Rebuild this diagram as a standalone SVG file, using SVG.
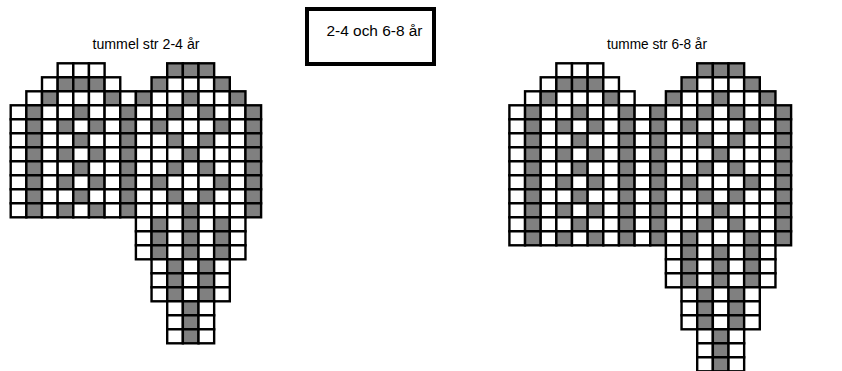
<svg xmlns="http://www.w3.org/2000/svg" xmlns:xlink="http://www.w3.org/1999/xlink" width="842" height="371" viewBox="0 0 842 371">
<style>
.w{fill:#ffffff;stroke:#000000;stroke-width:2.4}
.g{fill:#808080;stroke:#000000;stroke-width:2.4}
.t{font-family:"Liberation Sans",Arial,sans-serif;font-size:14px;fill:#000000}
.box{fill:#ffffff;stroke:#000000;stroke-width:4}
</style>
<defs>
<rect id="W" class="w" width="15.65" height="14"/>
<rect id="G" class="g" width="15.65" height="14"/>
<!-- left chart row patterns -->
<g id="L3"><use href="#W" x="0"/><use href="#G" x="15.65"/><use href="#W" x="31.3"/><use href="#W" x="46.95"/><use href="#G" x="62.6"/><use href="#W" x="78.25"/><use href="#W" x="93.9"/><use href="#G" x="109.55"/><use href="#W" x="125.2"/><use href="#W" x="140.85"/><use href="#G" x="156.5"/><use href="#W" x="172.15"/><use href="#G" x="187.8"/><use href="#W" x="203.45"/><use href="#W" x="219.1"/><use href="#G" x="234.75"/></g>
<g id="L4"><use href="#W" x="0"/><use href="#G" x="15.65"/><use href="#W" x="31.3"/><use href="#G" x="46.95"/><use href="#W" x="62.6"/><use href="#G" x="78.25"/><use href="#W" x="93.9"/><use href="#G" x="109.55"/><use href="#W" x="125.2"/><use href="#G" x="140.85"/><use href="#W" x="156.5"/><use href="#W" x="172.15"/><use href="#W" x="187.8"/><use href="#G" x="203.45"/><use href="#W" x="219.1"/><use href="#G" x="234.75"/></g>
<g id="L6"><use href="#W" x="0"/><use href="#G" x="15.65"/><use href="#W" x="31.3"/><use href="#G" x="46.95"/><use href="#W" x="62.6"/><use href="#G" x="78.25"/><use href="#W" x="93.9"/><use href="#G" x="109.55"/><use href="#W" x="125.2"/><use href="#W" x="140.85"/><use href="#W" x="156.5"/><use href="#G" x="172.15"/><use href="#W" x="187.8"/><use href="#W" x="203.45"/><use href="#W" x="219.1"/><use href="#G" x="234.75"/></g>
<g id="L11"><use href="#W" x="125.2"/><use href="#G" x="140.85"/><use href="#W" x="156.5"/><use href="#G" x="172.15"/><use href="#W" x="187.8"/><use href="#G" x="203.45"/><use href="#W" x="219.1"/></g>
<g id="L14"><use href="#W" x="140.85"/><use href="#G" x="156.5"/><use href="#W" x="172.15"/><use href="#G" x="187.8"/><use href="#W" x="203.45"/></g>
<g id="L17"><use href="#W" x="156.5"/><use href="#G" x="172.15"/><use href="#W" x="187.8"/></g>
<!-- right chart row patterns -->
<g id="R3"><use href="#W" x="0"/><use href="#G" x="15.65"/><use href="#W" x="31.3"/><use href="#W" x="46.95"/><use href="#G" x="62.6"/><use href="#W" x="78.25"/><use href="#W" x="93.9"/><use href="#G" x="109.55"/><use href="#W" x="125.2"/><use href="#G" x="140.85"/><use href="#W" x="156.5"/><use href="#W" x="172.15"/><use href="#G" x="187.8"/><use href="#W" x="203.45"/><use href="#G" x="219.1"/><use href="#W" x="234.75"/><use href="#W" x="250.4"/><use href="#G" x="266.05"/></g>
<g id="R4"><use href="#W" x="0"/><use href="#G" x="15.65"/><use href="#W" x="31.3"/><use href="#G" x="46.95"/><use href="#W" x="62.6"/><use href="#G" x="78.25"/><use href="#W" x="93.9"/><use href="#G" x="109.55"/><use href="#W" x="125.2"/><use href="#G" x="140.85"/><use href="#W" x="156.5"/><use href="#G" x="172.15"/><use href="#W" x="187.8"/><use href="#W" x="203.45"/><use href="#W" x="219.1"/><use href="#G" x="234.75"/><use href="#W" x="250.4"/><use href="#G" x="266.05"/></g>
<g id="R6"><use href="#W" x="0"/><use href="#G" x="15.65"/><use href="#W" x="31.3"/><use href="#G" x="46.95"/><use href="#W" x="62.6"/><use href="#G" x="78.25"/><use href="#W" x="93.9"/><use href="#G" x="109.55"/><use href="#W" x="125.2"/><use href="#G" x="140.85"/><use href="#W" x="156.5"/><use href="#W" x="172.15"/><use href="#W" x="187.8"/><use href="#G" x="203.45"/><use href="#W" x="219.1"/><use href="#W" x="234.75"/><use href="#W" x="250.4"/><use href="#G" x="266.05"/></g>
<g id="R13"><use href="#W" x="156.5"/><use href="#G" x="172.15"/><use href="#W" x="187.8"/><use href="#G" x="203.45"/><use href="#W" x="219.1"/><use href="#G" x="234.75"/><use href="#W" x="250.4"/></g>
<g id="R16"><use href="#W" x="172.15"/><use href="#G" x="187.8"/><use href="#W" x="203.45"/><use href="#G" x="219.1"/><use href="#W" x="234.75"/></g>
<g id="R19"><use href="#W" x="187.8"/><use href="#G" x="203.45"/><use href="#W" x="219.1"/></g>
</defs>

<g id="title-left"><text class="t" x="92.5" y="49" textLength="107" lengthAdjust="spacingAndGlyphs">tummel str 2-4 år</text></g>
<g id="title-right"><text class="t" x="607" y="49" textLength="100" lengthAdjust="spacingAndGlyphs">tumme str 6-8 år</text></g>
<g id="size-box"><rect class="box" x="307" y="9" width="127" height="55"/><text class="t" x="326.5" y="36" textLength="96" lengthAdjust="spacingAndGlyphs">2-4 och 6-8 år</text></g>

<g id="chart-left" transform="translate(10.7,63.3)">
<use href="#W" x="46.95" y="0"/><use href="#W" x="62.6" y="0"/><use href="#W" x="78.25" y="0"/>
<use href="#G" x="156.5" y="0"/><use href="#G" x="172.15" y="0"/><use href="#G" x="187.8" y="0"/>
<use href="#W" x="31.3" y="14"/><use href="#G" x="46.95" y="14"/><use href="#G" x="62.6" y="14"/><use href="#G" x="78.25" y="14"/><use href="#W" x="93.9" y="14"/>
<use href="#G" x="140.85" y="14"/><use href="#W" x="156.5" y="14"/><use href="#W" x="172.15" y="14"/><use href="#W" x="187.8" y="14"/><use href="#G" x="203.45" y="14"/>
<use href="#W" x="15.65" y="28"/><use href="#G" x="31.3" y="28"/><use href="#W" x="46.95" y="28"/><use href="#W" x="62.6" y="28"/><use href="#W" x="78.25" y="28"/><use href="#G" x="93.9" y="28"/><use href="#W" x="109.55" y="28"/>
<use href="#G" x="125.2" y="28"/><use href="#W" x="140.85" y="28"/><use href="#W" x="156.5" y="28"/><use href="#G" x="172.15" y="28"/><use href="#W" x="187.8" y="28"/><use href="#W" x="203.45" y="28"/><use href="#G" x="219.1" y="28"/>
<use href="#L3" y="42"/><use href="#L4" y="56"/><use href="#L3" y="70"/><use href="#L6" y="84"/>
<use href="#L3" y="98"/><use href="#L4" y="112"/><use href="#L3" y="126"/><use href="#L6" y="140"/>
<use href="#L11" y="154"/><use href="#L11" y="168"/><use href="#L11" y="182"/>
<use href="#L14" y="196"/><use href="#L14" y="210"/><use href="#L14" y="224"/>
<use href="#L17" y="238"/><use href="#L17" y="252"/><use href="#L17" y="266"/>
</g>

<g id="chart-right" transform="translate(509.4,63.3)">
<use href="#W" x="46.95" y="0"/><use href="#W" x="62.6" y="0"/><use href="#W" x="78.25" y="0"/>
<use href="#G" x="187.8" y="0"/><use href="#G" x="203.45" y="0"/><use href="#G" x="219.1" y="0"/>
<use href="#W" x="31.3" y="14"/><use href="#G" x="46.95" y="14"/><use href="#G" x="62.6" y="14"/><use href="#G" x="78.25" y="14"/><use href="#W" x="93.9" y="14"/>
<use href="#G" x="172.15" y="14"/><use href="#W" x="187.8" y="14"/><use href="#W" x="203.45" y="14"/><use href="#W" x="219.1" y="14"/><use href="#G" x="234.75" y="14"/>
<use href="#W" x="15.65" y="28"/><use href="#G" x="31.3" y="28"/><use href="#W" x="46.95" y="28"/><use href="#W" x="62.6" y="28"/><use href="#W" x="78.25" y="28"/><use href="#G" x="93.9" y="28"/><use href="#W" x="109.55" y="28"/>
<use href="#G" x="156.5" y="28"/><use href="#W" x="172.15" y="28"/><use href="#W" x="187.8" y="28"/><use href="#G" x="203.45" y="28"/><use href="#W" x="219.1" y="28"/><use href="#W" x="234.75" y="28"/><use href="#G" x="250.4" y="28"/>
<use href="#R3" y="42"/><use href="#R4" y="56"/><use href="#R3" y="70"/><use href="#R6" y="84"/>
<use href="#R3" y="98"/><use href="#R4" y="112"/><use href="#R3" y="126"/><use href="#R6" y="140"/>
<use href="#R3" y="154"/><use href="#R4" y="168"/>
<use href="#R13" y="182"/><use href="#R13" y="196"/><use href="#R13" y="210"/>
<use href="#R16" y="224"/><use href="#R16" y="238"/><use href="#R16" y="252"/>
<use href="#R19" y="266"/><use href="#R19" y="280"/><use href="#R19" y="294"/>
</g>
</svg>
